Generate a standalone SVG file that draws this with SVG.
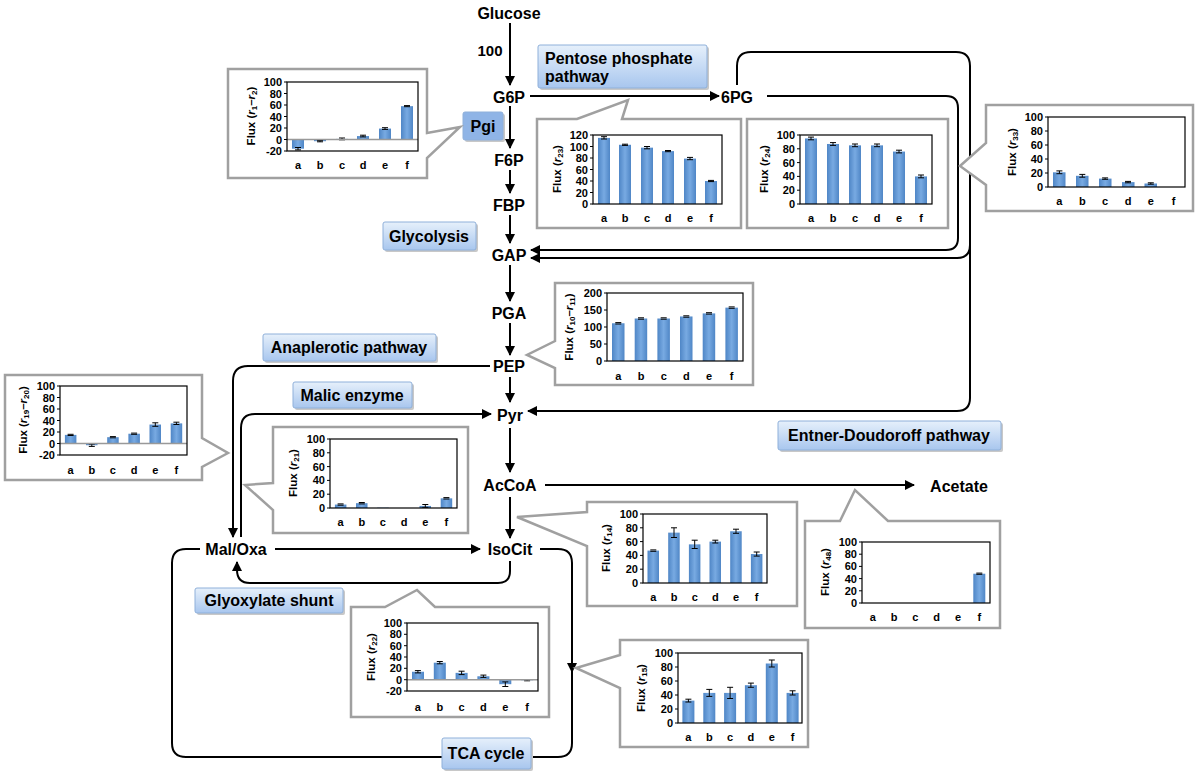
<svg xmlns="http://www.w3.org/2000/svg" width="1200" height="781" viewBox="0 0 1200 781">
<defs>
<linearGradient id="bar" x1="0" y1="0" x2="1" y2="0">
<stop offset="0" stop-color="#4f86c6"/><stop offset="0.5" stop-color="#78aae2"/><stop offset="1" stop-color="#4f86c6"/>
</linearGradient>
<linearGradient id="lab" x1="0" y1="0" x2="0" y2="1">
<stop offset="0" stop-color="#e6f0fb"/><stop offset="1" stop-color="#a8c6ee"/>
</linearGradient>
<marker id="ah" viewBox="0 0 10 10" refX="9" refY="5" markerWidth="10" markerHeight="10" markerUnits="userSpaceOnUse" orient="auto">
<path d="M0,0 L10,5 L0,10 z" fill="#000"/>
</marker>
<style>
.m{font-family:"Liberation Sans",Arial,sans-serif;font-weight:bold;font-size:16px;text-anchor:middle;fill:#000}
.lt{font-family:"Liberation Sans",Arial,sans-serif;font-weight:bold;font-size:16px;fill:#000}
.lb{fill:url(#lab);stroke:#8fb0da;stroke-width:1}
.sh{fill:#c8c8c8}
.c{fill:none;stroke:#000;stroke-width:2}
.box{fill:#fff;stroke:#a0a0a0;stroke-width:2.5}
.pl{fill:none;stroke:#000;stroke-width:1.2}
.zl{stroke:#999;stroke-width:1.5}
.b{fill:url(#bar)}
.e{stroke:#000;stroke-width:1;fill:none}
.tk{font-family:"Liberation Sans",Arial,sans-serif;font-weight:bold;font-size:11px;text-anchor:end;fill:#000}
.xl{font-family:"Liberation Sans",Arial,sans-serif;font-weight:bold;font-size:11px;text-anchor:middle;fill:#000}
.fl{font-family:"Liberation Sans",Arial,sans-serif;font-weight:bold;font-size:11.5px;text-anchor:middle;fill:#000}
.it{font-style:italic}
.sb{font-size:8px}
</style>
</defs>
<rect width="1200" height="781" fill="#fff"/>

<g id="connectors">
<path class="c" d="M510,23 L510,85" marker-end="url(#ah)"/>
<path class="c" d="M510,106 L510,148" marker-end="url(#ah)"/>
<path class="c" d="M510,170 L510,193" marker-end="url(#ah)"/>
<path class="c" d="M510,215 L510,243" marker-end="url(#ah)"/>
<path class="c" d="M510,265 L510,301" marker-end="url(#ah)"/>
<path class="c" d="M510,323 L510,355" marker-end="url(#ah)"/>
<path class="c" d="M510,377 L510,402" marker-end="url(#ah)"/>
<path class="c" d="M510,428 L510,472" marker-end="url(#ah)"/>
<path class="c" d="M510,497 L510,538" marker-end="url(#ah)"/>
<path class="c" d="M530,96 L719,96" marker-end="url(#ah)"/>
<path class="c" d="M767,96 L946,96 Q958,96 958,108 L958,238 Q958,250 946,250 L531,250" marker-end="url(#ah)"/>
<path class="c" d="M737,85 L737,66 Q737,52 751,52 L956,52 Q970,52 970,66 L970,398 Q970,411 957,411 L528,411" marker-end="url(#ah)"/>
<path class="c" d="M970,245 Q970,258 957,258 L531,258" marker-end="url(#ah)"/>
<path class="c" d="M545,485 L914,485" marker-end="url(#ah)"/>
<path class="c" d="M490,366 L248,366 Q233,366 233,381 L233,537" marker-end="url(#ah)"/>
<path class="c" d="M241,537 L241,428 Q241,414 255,414 L491,414" marker-end="url(#ah)"/>
<path class="c" d="M275,549 L480,549" marker-end="url(#ah)"/>
<path class="c" d="M510,561 L510,571 Q510,583 498,583 L250,583 Q237,583 237,570 L237,562" marker-end="url(#ah)"/>
<path class="c" d="M540,549 L558,549 Q572,549 572,563 L572,672" marker-end="url(#ah)"/>
<path class="c" d="M572,670 L572,743 Q572,757 558,757 L186,757 Q172,757 172,743 L172,563 Q172,549 186,549 L200,549"/>
</g>

<g id="metabolites">
<text class="m" x="509" y="19">Glucose</text>
<text class="m" x="490" y="56" style="font-size:15px">100</text>
<text class="m" x="509" y="103">G6P</text>
<text class="m" x="737" y="103">6PG</text>
<text class="m" x="509" y="166">F6P</text>
<text class="m" x="509" y="211">FBP</text>
<text class="m" x="509" y="261">GAP</text>
<text class="m" x="509" y="319">PGA</text>
<text class="m" x="509" y="372">PEP</text>
<text class="m" x="510" y="421">Pyr</text>
<text class="m" x="510" y="491">AcCoA</text>
<text class="m" x="959" y="492">Acetate</text>
<text class="m" x="236" y="555">Mal/Oxa</text>
<text class="m" x="510" y="555">IsoCit</text>
</g>

<g id="labels">
<rect class="sh" x="540" y="47" width="169" height="43" rx="2"/><rect class="lb" x="538" y="45" width="169" height="43" rx="2"/>
<text class="lt" x="545" y="64">Pentose phosphate</text><text class="lt" x="545" y="82">pathway</text>
<rect class="sh" x="465" y="114" width="40" height="28" rx="2"/><rect class="lb" x="463" y="112" width="40" height="28" rx="2" style="fill:#8fb4e6"/>
<text class="m" x="483" y="132">Pgi</text>
<rect class="sh" x="385" y="224" width="93" height="28" rx="2"/><rect class="lb" x="383" y="222" width="93" height="28" rx="2"/>
<text class="m" x="429" y="242">Glycolysis</text>
<rect class="sh" x="265" y="336" width="173" height="27" rx="2"/><rect class="lb" x="263" y="334" width="173" height="27" rx="2"/>
<text class="m" x="349" y="353">Anaplerotic pathway</text>
<rect class="sh" x="295" y="384" width="119" height="26" rx="2"/><rect class="lb" x="293" y="382" width="119" height="26" rx="2"/>
<text class="m" x="352" y="401">Malic enzyme</text>
<rect class="sh" x="780" y="423" width="223" height="29" rx="2"/><rect class="lb" x="778" y="421" width="223" height="29" rx="2"/>
<text class="m" x="889" y="441">Entner-Doudoroff pathway</text>
<rect class="sh" x="197" y="590" width="148" height="25" rx="2"/><rect class="lb" x="195" y="588" width="148" height="25" rx="2"/>
<text class="m" x="269" y="606">Glyoxylate shunt</text>
<rect class="sh" x="444" y="740" width="89" height="31" rx="2"/><rect class="lb" x="442" y="738" width="89" height="31" rx="2"/>
<text class="m" x="486" y="759">TCA cycle</text>
</g>

<g id="chart-r1-r2">
<path class="box" d="M228,69 H427 V133 L460,127 L427,158 V178 H228 Z"/>
<rect class="b" x="292" y="139.5" width="12" height="9.2"/>
<rect class="b" x="314" y="139.5" width="12" height="1.7"/>
<rect class="b" x="336" y="138.9" width="12" height="0.6"/>
<rect class="b" x="357" y="136.05" width="12" height="3.45"/>
<rect class="b" x="379" y="128.58" width="12" height="10.92"/>
<rect class="b" x="401" y="106.15" width="12" height="33.35"/>
<path class="e" d="M298,147.5V149.9M295,147.5H301M295,149.9H301 M320,140.6V141.8M317,140.6H323M317,141.8H323 M342,138V139.8M339,138H345M339,139.8H345 M363,135.2V136.9M360,135.2H366M360,136.9H366 M385,127.7V129.4M382,127.7H388M382,129.4H388 M407,105.6V106.7M404,105.6H410M404,106.7H410"/>
<line class="zl" x1="287" y1="139.5" x2="418" y2="139.5"/>
<rect class="pl" x="287" y="82" width="131" height="69"/>
<path class="e" d="M284,82H287M284,93.5H287M284,105H287M284,116.5H287M284,128H287M284,139.5H287M284,151H287"/>
<text class="tk" x="282" y="86">100</text><text class="tk" x="282" y="97.5">80</text><text class="tk" x="282" y="109">60</text><text class="tk" x="282" y="120.5">40</text><text class="tk" x="282" y="132">20</text><text class="tk" x="282" y="143.5">0</text><text class="tk" x="282" y="155">-20</text>
<text class="xl" x="298" y="169">a</text><text class="xl" x="320" y="169">b</text><text class="xl" x="342" y="169">c</text><text class="xl" x="363" y="169">d</text><text class="xl" x="385" y="169">e</text><text class="xl" x="407" y="169">f</text>
<text class="fl" transform="translate(255,116) rotate(-90)">Flux (<tspan class="it">r</tspan><tspan class="sb" dy="2">1</tspan><tspan dy="-2">–</tspan><tspan class="it">r</tspan><tspan class="sb" dy="2">2</tspan><tspan dy="-2">)</tspan></text>
</g>

<g id="chart-r23">
<path class="box" d="M537,119 H577 L628,100 L622,119 H741 V228 H537 Z"/>
<rect class="b" x="598" y="137.9" width="12" height="66.1"/>
<rect class="b" x="619" y="144.78" width="12" height="59.22"/>
<rect class="b" x="641" y="147.65" width="12" height="56.35"/>
<rect class="b" x="662" y="151.1" width="12" height="52.9"/>
<rect class="b" x="684" y="158.58" width="12" height="45.42"/>
<rect class="b" x="705" y="181" width="12" height="23"/>
<path class="e" d="M604,136.7V139M601,136.7H607M601,139H607 M625,144.2V145.4M622,144.2H628M622,145.4H628 M647,146.5V148.8M644,146.5H650M644,148.8H650 M668,150.5V151.7M665,150.5H671M665,151.7H671 M690,157.4V159.7M687,157.4H693M687,159.7H693 M711,180.4V181.6M708,180.4H714M708,181.6H714"/>
<rect class="pl" x="593" y="135" width="129" height="69"/>
<path class="e" d="M590,135H593M590,146.5H593M590,158H593M590,169.5H593M590,181H593M590,192.5H593M590,204H593"/>
<text class="tk" x="588" y="139">120</text><text class="tk" x="588" y="150.5">100</text><text class="tk" x="588" y="162">80</text><text class="tk" x="588" y="173.5">60</text><text class="tk" x="588" y="185">40</text><text class="tk" x="588" y="196.5">20</text><text class="tk" x="588" y="208">0</text>
<text class="xl" x="604" y="222">a</text><text class="xl" x="625" y="222">b</text><text class="xl" x="647" y="222">c</text><text class="xl" x="668" y="222">d</text><text class="xl" x="690" y="222">e</text><text class="xl" x="711" y="222">f</text>
<text class="fl" transform="translate(561,169) rotate(-90)">Flux (<tspan class="it">r</tspan><tspan class="sb" dy="2">23</tspan><tspan dy="-2">)</tspan></text>
</g>

<g id="chart-r24">
<rect class="box" x="747" y="119" width="201" height="109"/>
<rect class="b" x="805" y="138.45" width="12" height="65.55"/>
<rect class="b" x="827" y="143.97" width="12" height="60.03"/>
<rect class="b" x="849" y="145.35" width="12" height="58.65"/>
<rect class="b" x="871" y="145.35" width="12" height="58.65"/>
<rect class="b" x="893" y="151.56" width="12" height="52.44"/>
<rect class="b" x="915" y="176.4" width="12" height="27.6"/>
<path class="e" d="M811,137.1V139.8M808,137.1H814M808,139.8H814 M833,142.6V145.4M830,142.6H836M830,145.4H836 M855,144V146.7M852,144H858M852,146.7H858 M877,144V146.7M874,144H880M874,146.7H880 M899,150.2V152.9M896,150.2H902M896,152.9H902 M921,175V177.8M918,175H924M918,177.8H924"/>
<rect class="pl" x="800" y="135" width="132" height="69"/>
<path class="e" d="M797,135H800M797,148.8H800M797,162.6H800M797,176.4H800M797,190.2H800M797,204H800"/>
<text class="tk" x="795" y="139">100</text><text class="tk" x="795" y="152.8">80</text><text class="tk" x="795" y="166.6">60</text><text class="tk" x="795" y="180.4">40</text><text class="tk" x="795" y="194.2">20</text><text class="tk" x="795" y="208">0</text>
<text class="xl" x="811" y="222">a</text><text class="xl" x="833" y="222">b</text><text class="xl" x="855" y="222">c</text><text class="xl" x="877" y="222">d</text><text class="xl" x="899" y="222">e</text><text class="xl" x="921" y="222">f</text>
<text class="fl" transform="translate(768,169) rotate(-90)">Flux (<tspan class="it">r</tspan><tspan class="sb" dy="2">24</tspan><tspan dy="-2">)</tspan></text>
</g>

<g id="chart-r33">
<path class="box" d="M986,105 H1193 V211 H986 V185 L960,166 L986,143 Z"/>
<rect class="b" x="1053" y="172.3" width="12.5" height="14.7"/>
<rect class="b" x="1076" y="175.8" width="12.5" height="11.2"/>
<rect class="b" x="1099" y="178.6" width="12.5" height="8.4"/>
<rect class="b" x="1122" y="182.1" width="12.5" height="4.9"/>
<rect class="b" x="1144.5" y="183.5" width="12.5" height="3.5"/>
<path class="e" d="M1059.4,170.9V173.7M1056.4,170.9H1062.4M1056.4,173.7H1062.4 M1082.3,174.4V177.2M1079.3,174.4H1085.3M1079.3,177.2H1085.3 M1105.1,177.9V179.3M1102.1,177.9H1108.1M1102.1,179.3H1108.1 M1128,181.4V182.8M1125,181.4H1131M1125,182.8H1131 M1150.8,182.8V184.2M1147.8,182.8H1153.8M1147.8,184.2H1153.8"/>
<rect class="pl" x="1048" y="117" width="137" height="70"/>
<path class="e" d="M1045,117H1048M1045,131H1048M1045,145H1048M1045,159H1048M1045,173H1048M1045,187H1048"/>
<text class="tk" x="1043" y="121">100</text><text class="tk" x="1043" y="135">80</text><text class="tk" x="1043" y="149">60</text><text class="tk" x="1043" y="163">40</text><text class="tk" x="1043" y="177">20</text><text class="tk" x="1043" y="191">0</text>
<text class="xl" x="1059.4" y="205">a</text><text class="xl" x="1082.3" y="205">b</text><text class="xl" x="1105.1" y="205">c</text><text class="xl" x="1128" y="205">d</text><text class="xl" x="1150.8" y="205">e</text><text class="xl" x="1173.6" y="205">f</text>
<text class="fl" transform="translate(1016,152) rotate(-90)">Flux (<tspan class="it">r</tspan><tspan class="sb" dy="2">33</tspan><tspan dy="-2">)</tspan></text>
</g>

<g id="chart-r10-r11">
<path class="box" d="M555,283 H753 V385 H555 V368 L527,355 L555,341 Z"/>
<rect class="b" x="612" y="323.26" width="12.5" height="37.74"/>
<rect class="b" x="634.7" y="318.5" width="12.5" height="42.5"/>
<rect class="b" x="657.4" y="318.5" width="12.5" height="42.5"/>
<rect class="b" x="680" y="316.46" width="12.5" height="44.54"/>
<rect class="b" x="702.7" y="313.4" width="12.5" height="47.6"/>
<rect class="b" x="725.4" y="307.62" width="12.5" height="53.38"/>
<path class="e" d="M615.3,322.6H621.3M615.3,324H621.3 M638,317.8H644M638,319.2H644 M660.7,317.8H666.7M660.7,319.2H666.7 M683.3,315.8H689.3M683.3,317.2H689.3 M706,312.7H712M706,314.1H712 M728.7,306.9H734.7M728.7,308.3H734.7"/>
<rect class="pl" x="607" y="293" width="136" height="68"/>
<path class="e" d="M604,293H607M604,310H607M604,327H607M604,344H607M604,361H607"/>
<text class="tk" x="602" y="297">200</text><text class="tk" x="602" y="314">150</text><text class="tk" x="602" y="331">100</text><text class="tk" x="602" y="348">50</text><text class="tk" x="602" y="365">0</text>
<text class="xl" x="618.3" y="380">a</text><text class="xl" x="641" y="380">b</text><text class="xl" x="663.7" y="380">c</text><text class="xl" x="686.3" y="380">d</text><text class="xl" x="709" y="380">e</text><text class="xl" x="731.7" y="380">f</text>
<text class="fl" transform="translate(573,327) rotate(-90)">Flux (<tspan class="it">r</tspan><tspan class="sb" dy="2">10</tspan><tspan dy="-2">–</tspan><tspan class="it">r</tspan><tspan class="sb" dy="2">11</tspan><tspan dy="-2">)</tspan></text>
</g>

<g id="chart-r19-r20">
<path class="box" d="M5,375 H202 V438 L228,453 L202,467 V480 H5 Z"/>
<rect class="b" x="64.9" y="434.88" width="11.5" height="8.62"/>
<rect class="b" x="86" y="443.5" width="11.5" height="1.72"/>
<rect class="b" x="107.2" y="437.18" width="11.5" height="6.32"/>
<rect class="b" x="128.4" y="433.72" width="11.5" height="9.78"/>
<rect class="b" x="149.5" y="424.53" width="11.5" height="18.97"/>
<rect class="b" x="170.7" y="423.38" width="11.5" height="20.12"/>
<path class="e" d="M67.6,434.3H73.6M67.6,435.5H73.6 M91.8,444.1V446.4M88.8,444.1H94.8M88.8,446.4H94.8 M109.9,436.6H115.9M109.9,437.8H115.9 M131.1,433.1H137.1M131.1,434.3H137.1 M155.3,422.8V426.3M152.3,422.8H158.3M152.3,426.3H158.3 M176.4,422.2V424.5M173.4,422.2H179.4M173.4,424.5H179.4"/>
<line class="zl" x1="60" y1="443.5" x2="187" y2="443.5"/>
<rect class="pl" x="60" y="386" width="127" height="69"/>
<path class="e" d="M57,386H60M57,397.5H60M57,409H60M57,420.5H60M57,432H60M57,443.5H60M57,455H60"/>
<text class="tk" x="55" y="390">100</text><text class="tk" x="55" y="401.5">80</text><text class="tk" x="55" y="413">60</text><text class="tk" x="55" y="424.5">40</text><text class="tk" x="55" y="436">20</text><text class="tk" x="55" y="447.5">0</text><text class="tk" x="55" y="459">-20</text>
<text class="xl" x="70.6" y="474">a</text><text class="xl" x="91.8" y="474">b</text><text class="xl" x="112.9" y="474">c</text><text class="xl" x="134.1" y="474">d</text><text class="xl" x="155.3" y="474">e</text><text class="xl" x="176.4" y="474">f</text>
<text class="fl" transform="translate(27,420) rotate(-90)">Flux (<tspan class="it">r</tspan><tspan class="sb" dy="2">19</tspan><tspan dy="-2">–</tspan><tspan class="it">r</tspan><tspan class="sb" dy="2">20</tspan><tspan dy="-2">)</tspan></text>
</g>

<g id="chart-r21">
<path class="box" d="M273,427 H468 V533 H273 V510 L245,485 L273,483 Z"/>
<rect class="b" x="334.9" y="504.55" width="11.5" height="3.45"/>
<rect class="b" x="356" y="503.17" width="11.5" height="4.83"/>
<rect class="b" x="377.2" y="507.65" width="11.5" height="0.35"/>
<rect class="b" x="419.5" y="505.93" width="11.5" height="2.07"/>
<rect class="b" x="440.7" y="498.34" width="11.5" height="9.66"/>
<path class="e" d="M337.6,503.9H343.6M337.6,505.2H343.6 M358.8,502.5H364.8M358.8,503.9H364.8 M425.3,504.5V507.3M422.3,504.5H428.3M422.3,507.3H428.3 M443.4,497.6H449.4M443.4,499H449.4"/>
<rect class="pl" x="330" y="439" width="127" height="69"/>
<path class="e" d="M327,439H330M327,452.8H330M327,466.6H330M327,480.4H330M327,494.2H330M327,508H330"/>
<text class="tk" x="325" y="443">100</text><text class="tk" x="325" y="456.8">80</text><text class="tk" x="325" y="470.6">60</text><text class="tk" x="325" y="484.4">40</text><text class="tk" x="325" y="498.2">20</text><text class="tk" x="325" y="512">0</text>
<text class="xl" x="340.6" y="526">a</text><text class="xl" x="361.8" y="526">b</text><text class="xl" x="382.9" y="526">c</text><text class="xl" x="404.1" y="526">d</text><text class="xl" x="425.3" y="526">e</text><text class="xl" x="446.4" y="526">f</text>
<text class="fl" transform="translate(297,473) rotate(-90)">Flux (<tspan class="it">r</tspan><tspan class="sb" dy="2">21</tspan><tspan dy="-2">)</tspan></text>
</g>

<g id="chart-r14">
<path class="box" d="M587,502 H797 V606 H587 V546 L517,517 L587,512 Z"/>
<rect class="b" x="647.5" y="550.57" width="11.5" height="32.43"/>
<rect class="b" x="668.2" y="532.63" width="11.5" height="50.37"/>
<rect class="b" x="688.9" y="544.36" width="11.5" height="38.64"/>
<rect class="b" x="709.5" y="541.6" width="11.5" height="41.4"/>
<rect class="b" x="730.2" y="531.25" width="11.5" height="51.75"/>
<rect class="b" x="750.9" y="554.02" width="11.5" height="28.98"/>
<path class="e" d="M650.3,549.9H656.3M650.3,551.3H656.3 M674,527.8V537.5M671,527.8H677M671,537.5H677 M694.7,540.2V548.5M691.7,540.2H697.7M691.7,548.5H697.7 M715.3,540.2V543M712.3,540.2H718.3M712.3,543H718.3 M736,529.2V533.3M733,529.2H739M733,533.3H739 M756.7,552V556.1M753.7,552H759.7M753.7,556.1H759.7"/>
<rect class="pl" x="643" y="514" width="124" height="69"/>
<path class="e" d="M640,514H643M640,527.8H643M640,541.6H643M640,555.4H643M640,569.2H643M640,583H643"/>
<text class="tk" x="638" y="518">100</text><text class="tk" x="638" y="531.8">80</text><text class="tk" x="638" y="545.6">60</text><text class="tk" x="638" y="559.4">40</text><text class="tk" x="638" y="573.2">20</text><text class="tk" x="638" y="587">0</text>
<text class="xl" x="653.3" y="601">a</text><text class="xl" x="674" y="601">b</text><text class="xl" x="694.7" y="601">c</text><text class="xl" x="715.3" y="601">d</text><text class="xl" x="736" y="601">e</text><text class="xl" x="756.7" y="601">f</text>
<text class="fl" transform="translate(610,548) rotate(-90)">Flux (<tspan class="it">r</tspan><tspan class="sb" dy="2">14</tspan><tspan dy="-2">)</tspan></text>
</g>

<g id="chart-r48">
<path class="box" d="M805,521 H840 L855,490 L888,521 H1000 V628 H805 Z"/>
<rect class="b" x="973.3" y="573.72" width="12" height="29.28"/>
<path class="e" d="M976.3,573.1H982.3M976.3,574.3H982.3"/>
<rect class="pl" x="862" y="542" width="128" height="61"/>
<path class="e" d="M859,542H862M859,554.2H862M859,566.4H862M859,578.6H862M859,590.8H862M859,603H862"/>
<text class="tk" x="857" y="546">100</text><text class="tk" x="857" y="558.2">80</text><text class="tk" x="857" y="570.4">60</text><text class="tk" x="857" y="582.6">40</text><text class="tk" x="857" y="594.8">20</text><text class="tk" x="857" y="607">0</text>
<text class="xl" x="872.7" y="621">a</text><text class="xl" x="894" y="621">b</text><text class="xl" x="915.3" y="621">c</text><text class="xl" x="936.7" y="621">d</text><text class="xl" x="958" y="621">e</text><text class="xl" x="979.3" y="621">f</text>
<text class="fl" transform="translate(829,572) rotate(-90)">Flux (<tspan class="it">r</tspan><tspan class="sb" dy="2">48</tspan><tspan dy="-2">)</tspan></text>
</g>

<g id="chart-r22">
<path class="box" d="M351,607 H385 L417,590 L435,607 H549 V717 H351 Z"/>
<rect class="b" x="412" y="671.74" width="12" height="7.93"/>
<rect class="b" x="433.8" y="662.67" width="12" height="17"/>
<rect class="b" x="455.6" y="672.87" width="12" height="6.8"/>
<rect class="b" x="477.4" y="676.27" width="12" height="3.4"/>
<rect class="b" x="499.3" y="679.67" width="12" height="4.53"/>
<rect class="b" x="521.1" y="679.67" width="12" height="0.57"/>
<path class="e" d="M417.9,670.6V672.9M414.9,670.6H420.9M414.9,672.9H420.9 M439.8,661.5V663.8M436.8,661.5H442.8M436.8,663.8H442.8 M461.6,671.2V674.6M458.6,671.2H464.6M458.6,674.6H464.6 M483.4,675.1V677.4M480.4,675.1H486.4M480.4,677.4H486.4 M505.3,681.9V686.5M502.3,681.9H508.3M502.3,686.5H508.3 M527.1,679.7V680.8M524.1,680.8H530.1"/>
<line class="zl" x1="407" y1="679.67" x2="538" y2="679.67"/>
<rect class="pl" x="407" y="623" width="131" height="68"/>
<path class="e" d="M404,623H407M404,634.3H407M404,645.7H407M404,657H407M404,668.3H407M404,679.7H407M404,691H407"/>
<text class="tk" x="402" y="627">100</text><text class="tk" x="402" y="638.3">80</text><text class="tk" x="402" y="649.7">60</text><text class="tk" x="402" y="661">40</text><text class="tk" x="402" y="672.3">20</text><text class="tk" x="402" y="683.7">0</text><text class="tk" x="402" y="695">-20</text>
<text class="xl" x="417.9" y="711">a</text><text class="xl" x="439.8" y="711">b</text><text class="xl" x="461.6" y="711">c</text><text class="xl" x="483.4" y="711">d</text><text class="xl" x="505.3" y="711">e</text><text class="xl" x="527.1" y="711">f</text>
<text class="fl" transform="translate(375,657) rotate(-90)">Flux (<tspan class="it">r</tspan><tspan class="sb" dy="2">22</tspan><tspan dy="-2">)</tspan></text>
</g>

<g id="chart-r15">
<path class="box" d="M620,640 H808 V747 H620 V688 L576,668 L620,655 Z"/>
<rect class="b" x="682.4" y="700.6" width="12" height="22.4"/>
<rect class="b" x="703.3" y="692.9" width="12" height="30.1"/>
<rect class="b" x="724.1" y="692.9" width="12" height="30.1"/>
<rect class="b" x="744.9" y="685.2" width="12" height="37.8"/>
<rect class="b" x="765.8" y="663.5" width="12" height="59.5"/>
<rect class="b" x="786.6" y="692.9" width="12" height="30.1"/>
<path class="e" d="M688.4,699.2V702M685.4,699.2H691.4M685.4,702H691.4 M709.3,689.4V696.4M706.3,689.4H712.3M706.3,696.4H712.3 M730.1,687.3V698.5M727.1,687.3H733.1M727.1,698.5H733.1 M750.9,683.1V687.3M747.9,683.1H753.9M747.9,687.3H753.9 M771.8,660V667M768.8,660H774.8M768.8,667H774.8 M792.6,690.8V695M789.6,690.8H795.6M789.6,695H795.6"/>
<rect class="pl" x="678" y="653" width="124" height="70"/>
<path class="e" d="M675,653H678M675,667H678M675,681H678M675,695H678M675,709H678M675,723H678"/>
<text class="tk" x="673" y="657">100</text><text class="tk" x="673" y="671">80</text><text class="tk" x="673" y="685">60</text><text class="tk" x="673" y="699">40</text><text class="tk" x="673" y="713">20</text><text class="tk" x="673" y="727">0</text>
<text class="xl" x="688.4" y="741">a</text><text class="xl" x="709.3" y="741">b</text><text class="xl" x="730.1" y="741">c</text><text class="xl" x="750.9" y="741">d</text><text class="xl" x="771.8" y="741">e</text><text class="xl" x="792.6" y="741">f</text>
<text class="fl" transform="translate(645,688) rotate(-90)">Flux (<tspan class="it">r</tspan><tspan class="sb" dy="2">15</tspan><tspan dy="-2">)</tspan></text>
</g>
</svg>
